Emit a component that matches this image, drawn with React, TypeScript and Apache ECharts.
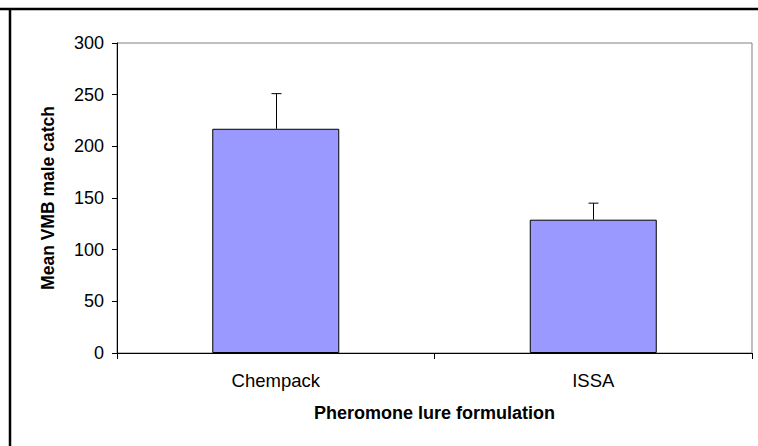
import React, { useEffect, useRef } from "react";
import * as echarts from "echarts";

const categories = ["Chempack", "ISSA"];
const means = [217, 129];
const upperErrors = [251, 145];
const yTicks = { min: 0, max: 300, interval: 50 };

export default function App() {
  const ref = useRef<HTMLDivElement>(null);
  useEffect(() => {
    document.body.style.margin = "0";
    const chart = echarts.init(ref.current!, null, { renderer: "svg" });
    const font = "Arial, 'Liberation Sans', sans-serif";
    chart.setOption({
      animation: false,
      backgroundColor: "#ffffff",
      grid: {
        left: 117,
        top: 43,
        right: 6,
        bottom: 93,
        show: true,
        borderColor: "#808080",
        borderWidth: 1,
        backgroundColor: "transparent",
      },
      graphic: [
        {
          type: "line",
          shape: { x1: 0, y1: 9, x2: 758, y2: 9 },
          style: { stroke: "#000", lineWidth: 2.5 },
        },
        {
          type: "line",
          shape: { x1: 10, y1: 8, x2: 10, y2: 446 },
          style: { stroke: "#000", lineWidth: 2.5 },
        },
      ],
      xAxis: {
        type: "category",
        data: categories,
        boundaryGap: true,
        axisLine: { lineStyle: { color: "#000", width: 1 } },
        axisTick: { show: true, length: 6, lineStyle: { color: "#000" } },
        axisLabel: { color: "#000", fontSize: 18.5, fontFamily: font, margin: 18 },
        name: "Pheromone lure formulation",
        nameLocation: "middle",
        nameGap: 51,
        nameTextStyle: { color: "#000", fontSize: 18, fontWeight: "bold", fontFamily: font },
      },
      yAxis: {
        type: "value",
        min: yTicks.min,
        max: yTicks.max,
        interval: yTicks.interval,
        axisLine: { show: true, lineStyle: { color: "#000", width: 1 } },
        axisTick: { show: true, length: 5, lineStyle: { color: "#000" } },
        splitLine: { show: false },
        axisLabel: { color: "#000", fontSize: 18, fontFamily: font, margin: 13 },
        name: "Mean VMB male catch",
        nameLocation: "middle",
        nameRotate: 90,
        nameGap: 60,
        nameTextStyle: { color: "#000", fontSize: 17.5, fontWeight: "bold", fontFamily: font },
      },
      series: [
        {
          type: "bar",
          data: means,
          barWidth: "40%",
          itemStyle: { color: "#9999FF", borderColor: "#000", borderWidth: 1 },
          z: 2,
        },
        {
          type: "custom",
          data: categories.map((_, i) => [i, means[i], upperErrors[i]]),
          z: 3,
          renderItem: (params: any, api: any) => {
            const x = api.value(0);
            const base = api.coord([x, api.value(1)]);
            const top = api.coord([x, api.value(2)]);
            const cx = Math.round(base[0]) + 0.5;
            return {
              type: "group",
              children: [
                {
                  type: "line",
                  shape: { x1: cx, y1: base[1], x2: cx, y2: top[1] },
                  style: { stroke: "#000", lineWidth: 1 },
                },
                {
                  type: "line",
                  shape: { x1: cx - 5, y1: top[1], x2: cx + 5, y2: top[1] },
                  style: { stroke: "#000", lineWidth: 1 },
                },
              ],
            };
          },
        },
      ],
    });
    return () => chart.dispose();
  }, []);
  return (
    <div
      ref={ref}
      style={{ position: "absolute", left: 0, top: 0, width: 758, height: 446 }}
    />
  );
}
